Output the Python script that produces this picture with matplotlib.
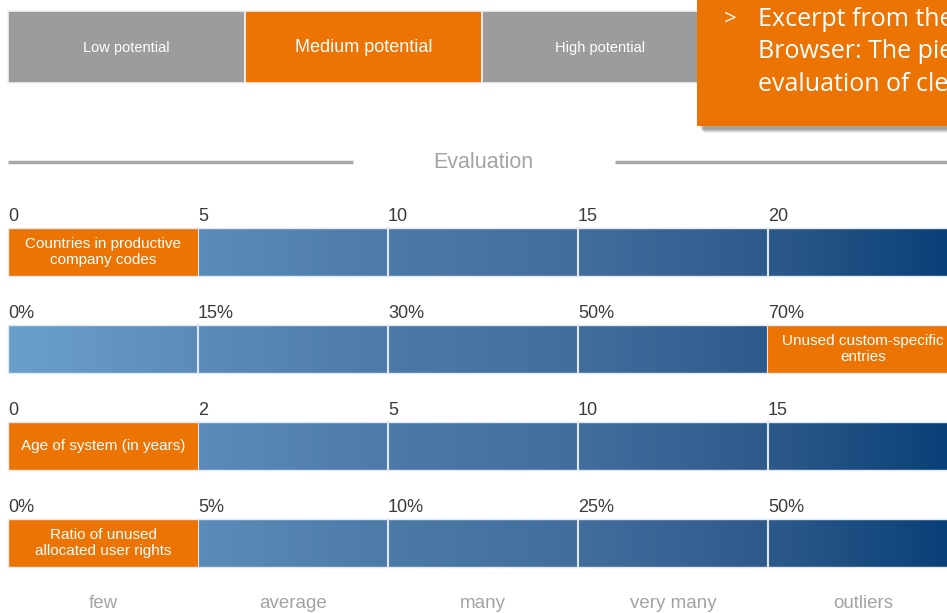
import matplotlib.pyplot as plt
import numpy as np
from matplotlib.colors import LinearSegmentedColormap
from matplotlib.patches import Rectangle

# data
tabs = ['Low potential', 'Medium potential', 'High potential']
active_tab = 1
row_labels = ['Countries in productive\ncompany codes',
              'Unused custom-specific\nentries',
              'Age of system (in years)',
              'Ratio of unused\nallocated user rights']
row_ticks = [['0', '5', '10', '15', '20'],
             ['0%', '15%', '30%', '50%', '70%'],
             ['0', '2', '5', '10', '15'],
             ['0%', '5%', '10%', '25%', '50%']]
row_hit = [0, 4, 0, 0]
levels = ['few', 'average', 'many', 'very many', 'outliers']
callout = 'Excerpt from the SAP Cleanup\nBrowser: The pie chart shows the\nevaluation of clean-up potential'

ORANGE = '#ec7405'
GRAY = '#9c9c9c'
LIGHT = '#a3a3a3'

plt.rcParams['font.family'] = ['Liberation Sans', 'DejaVu Sans']

fig = plt.figure(figsize=(9.47, 6.13), dpi=100)
ax = fig.add_axes([0, 0, 1, 1])
ax.set_xlim(0, 947)
ax.set_ylim(613, 0)
ax.axis('off')

# top tabs
tab_x0, tab_w, tab_y, tab_h = 8, 237, 11, 72
for i, t in enumerate(tabs):
    c = ORANGE if i == active_tab else GRAY
    ax.add_patch(Rectangle((tab_x0 + i * tab_w, tab_y), tab_w, tab_h, fc=c, ec='#f2f2f2', lw=1.2))
    ax.text(tab_x0 + i * tab_w + tab_w / 2, tab_y + tab_h / 2 + 1, t, color='white',
            fontsize=13 if i == active_tab else 10.5, ha='center', va='center')

# callout box with soft shadow
bx, by, bw, bh = 697, -5, 260, 131
for k in range(6):
    ax.add_patch(Rectangle((bx + 3 + k * 0.8, by + 3 + k * 0.8), bw, bh, fc='#000000',
                           alpha=0.07, ec='none', zorder=4))
ax.add_patch(Rectangle((bx, by), bw, bh, fc=ORANGE, ec='none', zorder=5))
ax.text(724, 19, '>', color='white', fontsize=16, family=['Open Sans', 'DejaVu Sans'],
        va='center', zorder=6)
ax.text(758, 52, callout, color='white', fontsize=18, family=['Open Sans', 'DejaVu Sans'],
        va='center', linespacing=1.42, zorder=6, clip_on=True)

# Evaluation header
ax.plot([8, 353], [162, 162], color='#a8a8a8', lw=2.5, solid_capstyle='butt')
ax.plot([615, 947], [162, 162], color='#a8a8a8', lw=2.5, solid_capstyle='butt')
ax.text(483, 163, 'Evaluation', color=LIGHT, fontsize=15.5, ha='center', va='center')

# rows
cmap = LinearSegmentedColormap.from_list('bl', [(0, '#6a9fcc'), (0.2, '#5b8cb9'), (0.4, '#4c7aa8'),
                                                (0.6, '#416e9d'), (0.8, '#2d5a8b'), (1, '#083f77')])
grad = np.linspace(0, 1, 256).reshape(1, -1)
x0, seg_w, bar_h = 8, 190, 48
n = len(levels)
for r, (lab, ticks, hit) in enumerate(zip(row_labels, row_ticks, row_hit)):
    top = 228 + r * 97
    ax.imshow(grad, cmap=cmap, aspect='auto', extent=[x0, x0 + n * seg_w, top + bar_h, top],
              interpolation='bilinear', zorder=1)
    for j, tk in enumerate(ticks):
        ax.text(x0 + j * seg_w, top - 3, tk, color='#3a3a3a', fontsize=13, ha='left', va='bottom')
        if j > 0:
            ax.plot([x0 + j * seg_w] * 2, [top, top + bar_h], color='#dfe6ee', lw=1.5, zorder=2)
    ax.add_patch(Rectangle((x0 + hit * seg_w, top), seg_w, bar_h, fc=ORANGE, ec='none', zorder=3))
    ax.text(x0 + hit * seg_w + seg_w / 2, top + bar_h / 2, lab, color='white', fontsize=11,
            ha='center', va='center', linespacing=1.1, zorder=4)
    ax.add_patch(Rectangle((x0, top), n * seg_w, bar_h, fc='none', ec='#e4e9ef', lw=1, zorder=3))

# bottom level labels
for j, lv in enumerate(levels):
    ax.text(x0 + j * seg_w + seg_w / 2, 604, lv, color=LIGHT, fontsize=13.5, ha='center', va='center')

ax.set_xlim(0, 947)
ax.set_ylim(613, 0)
fig.savefig('out.png', dpi=100)
